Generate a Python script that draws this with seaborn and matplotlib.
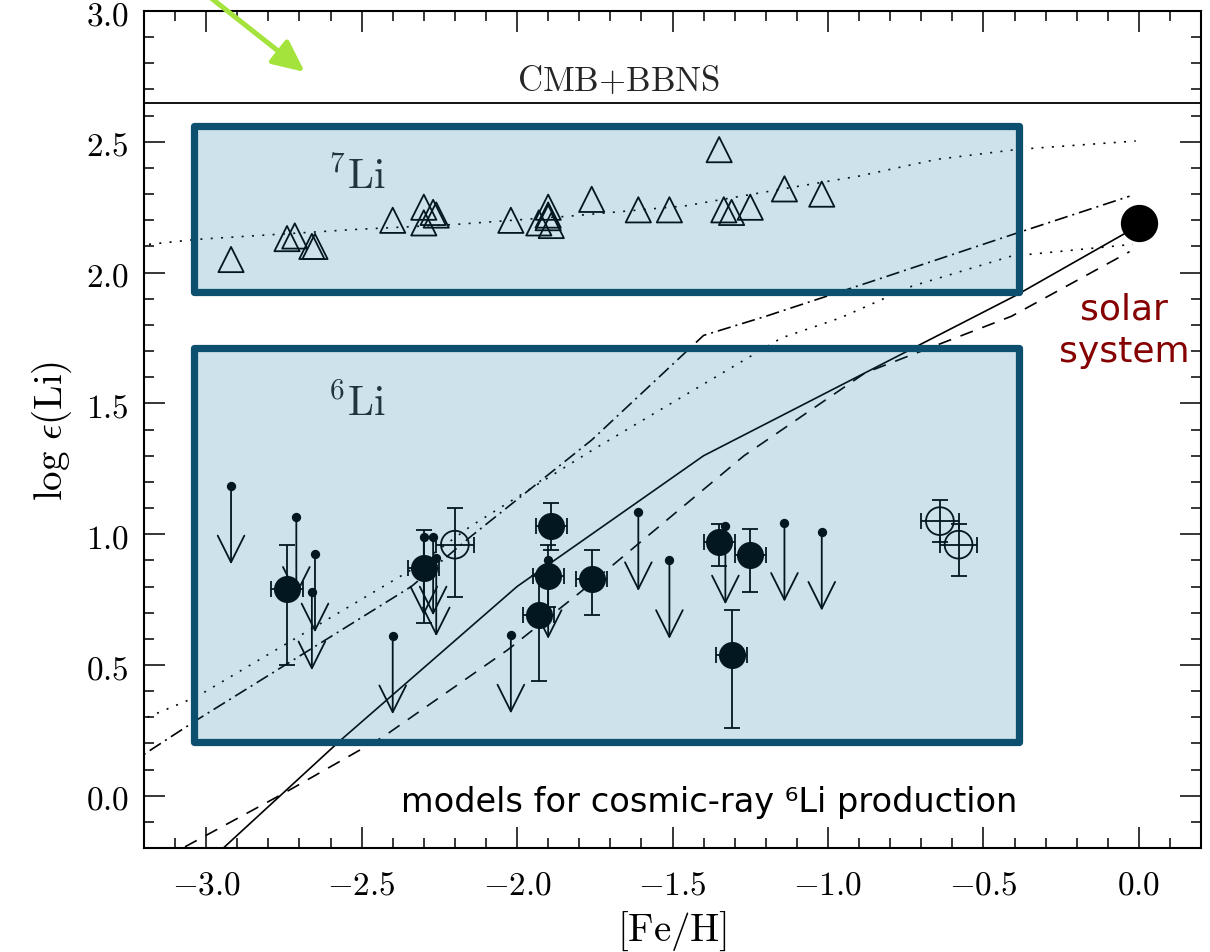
import numpy as np
import pandas as pd
import seaborn as sns
import matplotlib
matplotlib.use("Agg")
import matplotlib.pyplot as plt
from matplotlib.patches import Rectangle
from matplotlib.ticker import MultipleLocator, FuncFormatter

# ---------------- data ----------------
# 7Li measurements (open triangles)
li7_feh = [-2.92, -2.74, -2.715, -2.66, -2.65, -2.40, -2.30, -2.30, -2.27, -2.26,
           -2.02, -1.90, -1.93, -1.90, -1.89, -1.90, -1.76, -1.61, -1.51, -1.35,
           -1.335, -1.31, -1.25, -1.14, -1.02]
li7_val = [2.05, 2.13, 2.14, 2.10, 2.10, 2.20, 2.25, 2.19, 2.23, 2.22,
           2.20, 2.25, 2.19, 2.22, 2.18, 2.21, 2.28, 2.24, 2.24, 2.47,
           2.24, 2.23, 2.25, 2.32, 2.30]

# 7Li model (dotted)
li7_model_feh = [-3.25, -3.03, -2.52, -2.20, -1.83, -1.46, -1.12, -0.90, -0.65, -0.39, -0.01]
li7_model_val = [2.10, 2.127, 2.165, 2.184, 2.216, 2.255, 2.325, 2.369, 2.433, 2.471, 2.503]

# cosmic-ray 6Li production models
solid_feh = [-3.00, -2.57, -2.00, -1.40, -0.40, 0.00]
solid_val = [-0.26, 0.21, 0.80, 1.30, 1.91, 2.18]
dash_feh = [-3.20, -2.75, -2.43, -2.20, -2.03, -1.80, -1.27, -0.88, -0.41, -0.03]
dash_val = [-0.28, 0.01, 0.226, 0.417, 0.558, 0.775, 1.30, 1.617, 1.833, 2.08]
dashdot_feh = [-3.25, -3.03, -2.34, -2.15, -1.76, -1.40, -1.20, -0.84, -0.39, -0.03]
dashdot_val = [0.12, 0.29, 0.80, 0.99, 1.36, 1.76, 1.833, 1.974, 2.152, 2.292]
dot_feh = [-3.25, -3.03, -2.34, -2.15, -1.76, -1.15, -0.96, -0.73, -0.41, -0.02]
dot_val = [0.27, 0.379, 0.864, 1.03, 1.32, 1.75, 1.827, 1.948, 2.063, 2.108]

# 6Li detections (filled circles)
det_feh = [-2.74, -2.30, -1.89, -1.90, -1.93, -1.76, -1.35, -1.25, -1.31]
det_val = [0.79, 0.87, 1.03, 0.84, 0.69, 0.83, 0.97, 0.92, 0.54]
det_err_lo = [0.29, 0.21, 0.09, 0.12, 0.25, 0.14, 0.09, 0.14, 0.28]
det_err_hi = [0.17, 0.145, 0.09, 0.12, 0.15, 0.11, 0.07, 0.10, 0.17]
det_xerr = [0.05] * 9

# 6Li detections (open circles)
opn_feh = [-2.20, -0.64, -0.58]
opn_val = [0.96, 1.05, 0.96]
opn_err_lo = [0.20, 0.08, 0.12]
opn_err_hi = [0.14, 0.08, 0.08]
opn_xerr = [0.06, 0.06, 0.06]

# 6Li upper limits
lim_feh = [-2.92, -2.71, -2.65, -2.66, -2.40, -2.30, -2.27, -2.26, -2.02, -1.90,
           -1.61, -1.51, -1.33, -1.14, -1.02]
lim_val = [1.185, 1.065, 0.925, 0.78, 0.612, 0.99, 0.99, 0.91, 0.615, 0.90,
           1.083, 0.90, 1.032, 1.042, 1.008]

# solar system value
solar_feh = [0.0]
solar_val = [2.19]

cmb_bbns = 2.65

x_ticks = [-3.0, -2.5, -2.0, -1.5, -1.0, -0.5, 0.0]
y_ticks = [0.0, 0.5, 1.0, 1.5, 2.0, 2.5, 3.0]

# ---------------- style ----------------
sns.set_theme(style="ticks")
plt.rcParams["mathtext.fontset"] = "cm"
plt.rcParams["font.family"] = ["DejaVu Sans"]

fig = plt.figure(figsize=(12.10, 9.53), dpi=100)
ax = fig.add_axes([0.119, 0.109, 0.8736, 0.8784])

ink = "black"
LIM_LEN = 0.30

# model curves
df_solid = pd.DataFrame({"feh": solid_feh, "val": solid_val})
df_dash = pd.DataFrame({"feh": dash_feh, "val": dash_val})
df_dd = pd.DataFrame({"feh": dashdot_feh, "val": dashdot_val})
df_dot = pd.DataFrame({"feh": dot_feh, "val": dot_val})
df_li7m = pd.DataFrame({"feh": li7_model_feh, "val": li7_model_val})

kw = dict(x="feh", y="val", ax=ax, color=ink, lw=1.2, sort=False, estimator=None)
sns.lineplot(data=df_solid, **kw)
l_dash = sns.lineplot(data=df_dash, **kw).lines[-1]
l_dash.set_dashes([8, 6])
l_dd = sns.lineplot(data=df_dd, **kw).lines[-1]
l_dd.set_dashes([8, 3, 1.2, 3])
l_dot = sns.lineplot(data=df_dot, **kw).lines[-1]
l_dot.set_dashes([1.2, 5])
l_li7 = sns.lineplot(data=df_li7m, **kw).lines[-1]
l_li7.set_dashes([1.2, 5])

# CMB+BBNS
ax.axhline(cmb_bbns, color=ink, lw=1.3)
ax.text(-1.673, 2.737, r"$\mathrm{CMB{+}BBNS}$", fontsize=25, ha="center", va="center")

# 7Li triangles
df_li7 = pd.DataFrame({"feh": li7_feh, "val": li7_val})
sns.scatterplot(data=df_li7, x="feh", y="val", ax=ax, marker="^", s=330,
                facecolor="none", edgecolor=ink, linewidth=1.3, zorder=4)

# upper limits
for xv, yv in zip(lim_feh, lim_val):
    ax.annotate("", xy=(xv, yv - LIM_LEN), xytext=(xv, yv),
                arrowprops=dict(arrowstyle="->,head_length=1.6,head_width=0.8",
                                lw=1.3, color=ink, shrinkA=0, shrinkB=0),
                zorder=3)
df_lim = pd.DataFrame({"feh": lim_feh, "val": lim_val})
sns.scatterplot(data=df_lim, x="feh", y="val", ax=ax, s=45, color=ink,
                edgecolor=ink, linewidth=0, zorder=3)

# filled detections
ax.errorbar(det_feh, det_val, yerr=[det_err_lo, det_err_hi], xerr=det_xerr,
            fmt="none", ecolor=ink, elinewidth=1.3, capsize=6, capthick=1.3, zorder=3)
df_det = pd.DataFrame({"feh": det_feh, "val": det_val})
sns.scatterplot(data=df_det, x="feh", y="val", ax=ax, s=380, color=ink,
                edgecolor=ink, linewidth=0, zorder=4)

# open detections
ax.errorbar(opn_feh, opn_val, yerr=[opn_err_lo, opn_err_hi], xerr=opn_xerr,
            fmt="none", ecolor=ink, elinewidth=1.3, capsize=6, capthick=1.3, zorder=3)
df_opn = pd.DataFrame({"feh": opn_feh, "val": opn_val})
sns.scatterplot(data=df_opn, x="feh", y="val", ax=ax, s=400, facecolor="none",
                edgecolor=ink, linewidth=1.3, zorder=4)

# solar system
df_sol = pd.DataFrame({"feh": solar_feh, "val": solar_val})
sns.scatterplot(data=df_sol, x="feh", y="val", ax=ax, s=720, color="black",
                edgecolor="black", linewidth=0, zorder=6)
ax.text(-0.048, 1.782, "solar\nsystem", color="#850000", fontsize=26,
        ha="center", va="center", linespacing=1.3, zorder=7)

# box labels
ax.text(-2.516, 2.37, r"$^{7}\mathrm{Li}$", fontsize=30, ha="center", va="center", zorder=3)
ax.text(-2.516, 1.50, r"$^{6}\mathrm{Li}$", fontsize=30, ha="center", va="center", zorder=3)

ax.text(-1.381, -0.02, "models for cosmic-ray \u2076Li production", fontsize=24.2,
        ha="center", va="center", color="black")

# highlight boxes (translucent overlay + solid frame)
box_x0, box_x1 = -3.04, -0.386
for y0, y1 in [(1.927, 2.559), (0.205, 1.713)]:
    ax.add_patch(Rectangle((box_x0, y0), box_x1 - box_x0, y1 - y0,
                           facecolor="#0a759b", alpha=0.205, edgecolor="none", zorder=8))
    ax.add_patch(Rectangle((box_x0, y0), box_x1 - box_x0, y1 - y0,
                           facecolor="none", edgecolor="#0d4f6e", lw=5.2,
                           joinstyle="round", zorder=9))

# green arrow
ax.annotate("", xy=(-2.683, 2.767), xytext=(-3.02, 3.083),
            arrowprops=dict(arrowstyle="-|>,head_length=1.6,head_width=0.75",
                            lw=3.6, color="#a3e33b", shrinkA=0, shrinkB=0,
                            clip_on=False),
            annotation_clip=False, zorder=10)

# axes
ax.set_xlim(-3.2, 0.2)
ax.set_ylim(-0.2, 3.0)
ax.set_xticks(x_ticks)
ax.set_yticks(y_ticks)
ax.xaxis.set_minor_locator(MultipleLocator(0.1))
ax.yaxis.set_minor_locator(MultipleLocator(0.1))
fmt = FuncFormatter(lambda v, p: rf"${v:.1f}$")
ax.xaxis.set_major_formatter(fmt)
ax.yaxis.set_major_formatter(fmt)
ax.tick_params(which="both", direction="in", top=True, right=True, color="black",
               width=1.1, labelsize=24, labelcolor="black")
ax.tick_params(which="major", length=15)
ax.tick_params(which="minor", length=7.5)
ax.tick_params(axis="x", which="major", pad=14)
ax.tick_params(axis="y", which="major", pad=11)
for sp in ax.spines.values():
    sp.set_visible(True)
    sp.set_linewidth(1.5)
    sp.set_color("black")
ax.set_xlabel(r"$[\mathrm{Fe/H}]$", fontsize=28, labelpad=6, color="black")
ax.set_ylabel(r"$\mathrm{log}\ \epsilon(\mathrm{Li})$", fontsize=28, labelpad=8, color="black")
ax.set_facecolor("white")
fig.patch.set_facecolor("white")

fig.savefig("out.png", dpi=100)
